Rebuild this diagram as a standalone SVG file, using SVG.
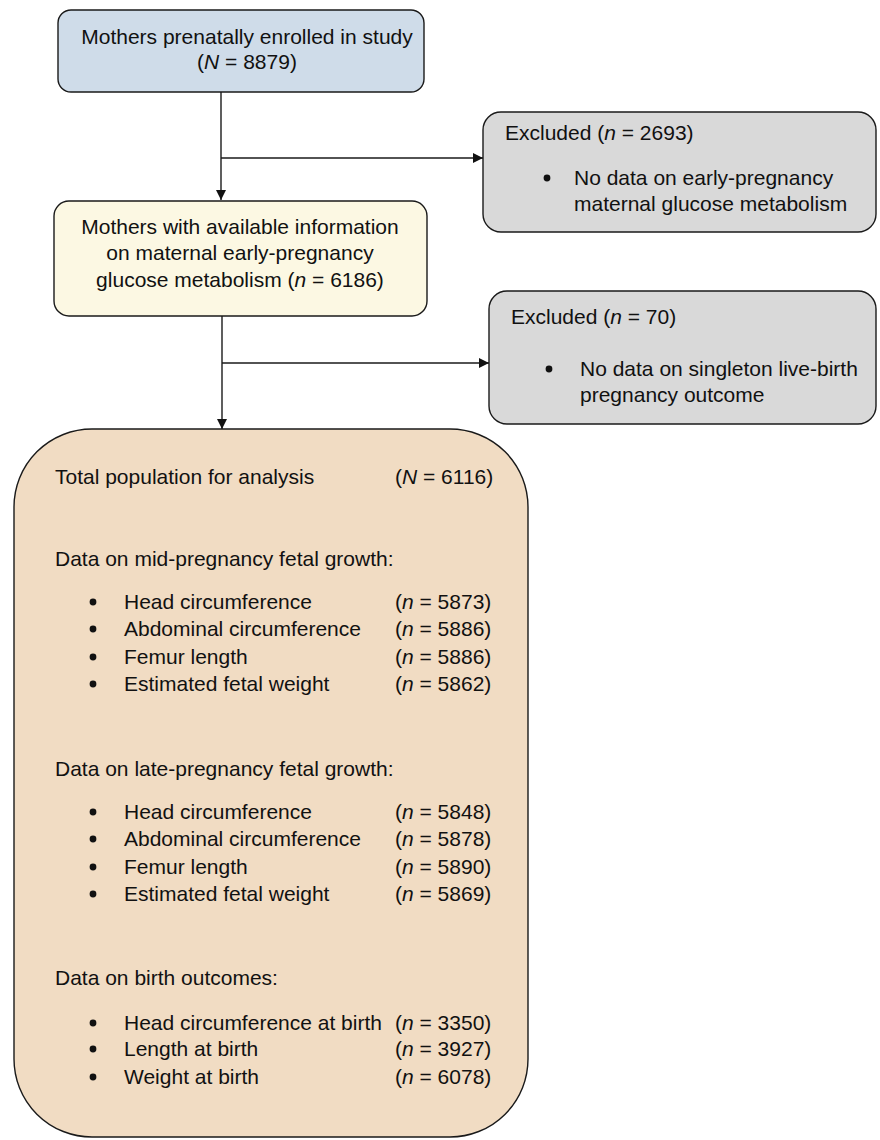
<svg xmlns="http://www.w3.org/2000/svg" width="880" height="1140" viewBox="0 0 880 1140">
<style>
text{font-family:"Liberation Sans",Arial,sans-serif;font-size:21px;fill:#111}
.c{text-anchor:middle}
.i{font-style:italic}
.box{stroke:#1a1a1a;stroke-width:1.4}
.conn{stroke:#1a1a1a;stroke-width:1.4;fill:none}
.dot{fill:#111}
</style>
<defs>
<marker id="ah" markerUnits="userSpaceOnUse" markerWidth="11" markerHeight="11" refX="10" refY="5" orient="auto">
<path d="M0,0 L10,5 L0,10 z" fill="#111"/>
</marker>
</defs>
<rect width="880" height="1140" fill="#fff"/>
<g id="connectors">
<line class="conn" x1="221" y1="92" x2="221" y2="200" marker-end="url(#ah)"/>
<line class="conn" x1="221" y1="158" x2="483" y2="158" marker-end="url(#ah)"/>
<line class="conn" x1="222" y1="316" x2="222" y2="429" marker-end="url(#ah)"/>
<line class="conn" x1="222" y1="363" x2="489" y2="363" marker-end="url(#ah)"/>
</g>
<g id="enrolled">
<rect class="box" x="58" y="10" width="366" height="82" rx="13" fill="#cfdce9"/>
<text class="c" x="247" y="44">Mothers prenatally enrolled in study</text>
<text class="c" x="247" y="69">(<tspan class="i">N</tspan> = 8879)</text>
</g>
<g id="excluded1">
<rect class="box" x="483" y="112" width="393" height="120" rx="18" fill="#d9d9d9"/>
<text x="505" y="140">Excluded (<tspan class="i">n</tspan> = 2693)</text>
<circle class="dot" cx="547" cy="178" r="3.4"/>
<text x="574" y="185">No data on early-pregnancy</text>
<text x="574" y="211">maternal glucose metabolism</text>
</g>
<g id="available">
<rect class="box" x="54" y="201" width="373" height="115" rx="15" fill="#fcf8e3"/>
<text class="c" x="240" y="234">Mothers with available information</text>
<text class="c" x="240" y="260">on maternal early-pregnancy</text>
<text class="c" x="240" y="287">glucose metabolism (<tspan class="i">n</tspan> = 6186)</text>
</g>
<g id="excluded2">
<rect class="box" x="489" y="291" width="387" height="133" rx="18" fill="#d9d9d9"/>
<text x="511" y="324">Excluded (<tspan class="i">n</tspan> = 70)</text>
<circle class="dot" cx="549" cy="369" r="3.4"/>
<text x="580" y="376">No data on singleton live-birth</text>
<text x="580" y="402">pregnancy outcome</text>
</g>
<g id="analysis">
<rect class="box" x="14" y="429" width="514" height="708" rx="78" fill="#f1dcc3"/>
<text x="55" y="484">Total population for analysis</text>
<text x="395" y="484">(<tspan class="i">N</tspan> = 6116)</text>
<text x="55" y="566">Data on mid-pregnancy fetal growth:</text>
<circle class="dot" cx="93" cy="602" r="3.4"/>
<text x="124" y="609">Head circumference</text>
<text x="395" y="609">(<tspan class="i">n</tspan> = 5873)</text>
<circle class="dot" cx="93" cy="629" r="3.4"/>
<text x="124" y="636">Abdominal circumference</text>
<text x="395" y="636">(<tspan class="i">n</tspan> = 5886)</text>
<circle class="dot" cx="93" cy="657" r="3.4"/>
<text x="124" y="664">Femur length</text>
<text x="395" y="664">(<tspan class="i">n</tspan> = 5886)</text>
<circle class="dot" cx="93" cy="684" r="3.4"/>
<text x="124" y="691">Estimated fetal weight</text>
<text x="395" y="691">(<tspan class="i">n</tspan> = 5862)</text>
<text x="55" y="776">Data on late-pregnancy fetal growth:</text>
<circle class="dot" cx="93" cy="812" r="3.4"/>
<text x="124" y="819">Head circumference</text>
<text x="395" y="819">(<tspan class="i">n</tspan> = 5848)</text>
<circle class="dot" cx="93" cy="839" r="3.4"/>
<text x="124" y="846">Abdominal circumference</text>
<text x="395" y="846">(<tspan class="i">n</tspan> = 5878)</text>
<circle class="dot" cx="93" cy="867" r="3.4"/>
<text x="124" y="874">Femur length</text>
<text x="395" y="874">(<tspan class="i">n</tspan> = 5890)</text>
<circle class="dot" cx="93" cy="894" r="3.4"/>
<text x="124" y="901">Estimated fetal weight</text>
<text x="395" y="901">(<tspan class="i">n</tspan> = 5869)</text>
<text x="55" y="985">Data on birth outcomes:</text>
<circle class="dot" cx="93" cy="1023" r="3.4"/>
<text x="124" y="1030">Head circumference at birth</text>
<text x="395" y="1030">(<tspan class="i">n</tspan> = 3350)</text>
<circle class="dot" cx="93" cy="1049" r="3.4"/>
<text x="124" y="1056">Length at birth</text>
<text x="395" y="1056">(<tspan class="i">n</tspan> = 3927)</text>
<circle class="dot" cx="93" cy="1077" r="3.4"/>
<text x="124" y="1084">Weight at birth</text>
<text x="395" y="1084">(<tspan class="i">n</tspan> = 6078)</text>
</g>
</svg>
